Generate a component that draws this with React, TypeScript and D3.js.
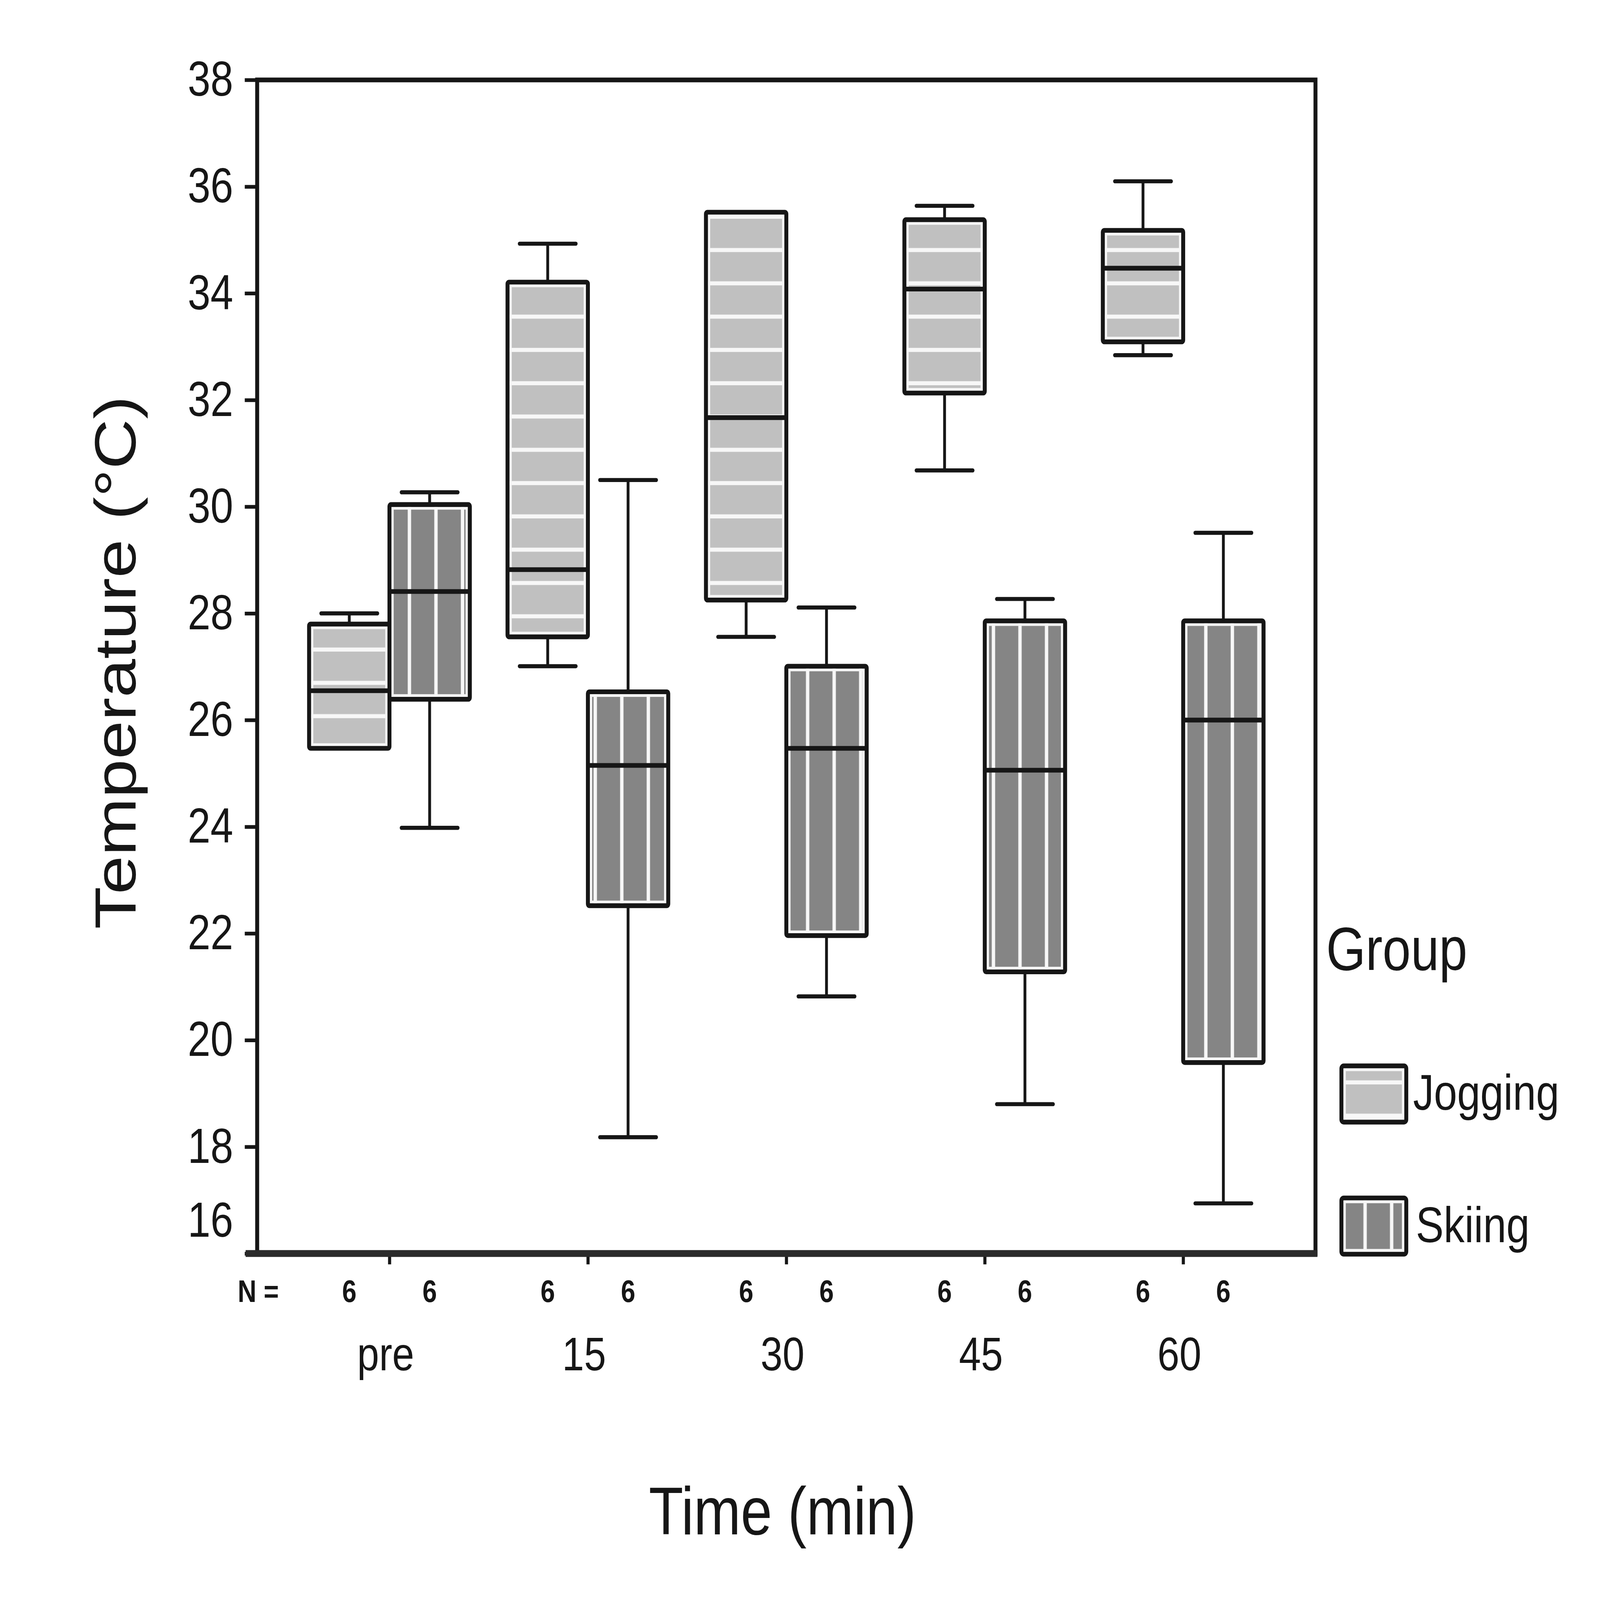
import * as d3 from 'd3';
import {useEffect, useRef} from 'react';

// time points and groups
const categories = ['pre', '15', '30', '45', '60'];
const groups = ['Jogging', 'Skiing'];
const yTicks = [16, 18, 20, 22, 24, 26, 28, 30, 32, 34, 36, 38];

// box statistics (°C)
const joggingLow = [25.47, 27.01, 27.56, 30.68, 32.84];
const joggingQ1 = [25.47, 27.56, 28.25, 32.13, 33.09];
const joggingMedian = [26.55, 28.82, 31.67, 34.08, 34.47];
const joggingQ3 = [27.8, 34.21, 35.52, 35.38, 35.18];
const joggingHigh = [28.0, 34.93, 35.52, 35.64, 36.1];

const skiingLow = [23.98, 18.18, 20.82, 18.8, 16.94];
const skiingQ1 = [26.39, 22.52, 21.96, 21.28, 19.58];
const skiingMedian = [28.41, 25.15, 25.47, 25.06, 26.0];
const skiingQ3 = [30.04, 26.53, 27.01, 27.86, 27.86];
const skiingHigh = [30.27, 30.5, 28.11, 28.27, 29.51];

const joggingN = [6, 6, 6, 6, 6];
const skiingN = [6, 6, 6, 6, 6];

const FONT = '"Liberation Sans", Arial, Helvetica, sans-serif';
const INK = '#161616';

export default function App() {
    const ref = useRef<SVGSVGElement>(null);
    const width = 5674;
    const height = 4724;

    const frame = {left: 912, right: 4665, top: 236, bottom: 3701};
    const boxW = 285;
    const capHalf = 100;

    useEffect(() => {
        const svg = d3.select(ref.current);
        svg.selectAll('*').remove();

        const x = d3
            .scalePoint<string>()
            .domain(categories)
            .range([frame.left, frame.right])
            .padding(2 / 3);

        const y = d3.scaleLinear().domain([16, 38]).range([frame.bottom, frame.top]);

        // fill patterns, anchored to the page like the original
        const defs = svg.append('defs');
        const hp = defs
            .append('pattern')
            .attr('id', 'joggingFill')
            .attr('patternUnits', 'userSpaceOnUse')
            .attr('x', 0)
            .attr('y', 935 - 49.15)
            .attr('width', 100)
            .attr('height', 98.3);
        hp.append('rect').attr('width', 100).attr('height', 98.3).attr('fill', '#c0c0c0');
        hp.append('rect').attr('y', 43).attr('width', 100).attr('height', 12).attr('fill', '#f7f7f7');

        const vp = defs
            .append('pattern')
            .attr('id', 'skiingFill')
            .attr('patternUnits', 'userSpaceOnUse')
            .attr('x', 1452 - 47.07)
            .attr('y', 0)
            .attr('width', 94.14)
            .attr('height', 100);
        vp.append('rect').attr('width', 94.14).attr('height', 100).attr('fill', '#858585');
        vp.append('rect').attr('x', 41).attr('width', 12).attr('height', 100).attr('fill', '#f7f7f7');

        const fills = ['url(#joggingFill)', 'url(#skiingFill)'];

        // y axis
        const yAxis = d3
            .axisLeft(y)
            .tickValues(yTicks)
            .tickSize(44)
            .tickPadding(41)
            .tickFormat((d) => `${d}`);
        const gy = svg.append('g').attr('transform', `translate(${frame.left},0)`).call(yAxis);
        gy.select('.domain').remove();
        gy.selectAll('line').attr('stroke', INK).attr('stroke-width', 11);
        gy.selectAll('text')
            .attr('font-family', FONT)
            .attr('font-size', 145)
            .attr('fill', INK);
        gy.selectAll<SVGTextElement, number>('text')
            .filter((d) => d === 16)
            .attr('y', -96);

        // x axis ticks and category labels
        const xAxis = d3.axisBottom(x).tickSize(32).tickPadding(214);
        const gx = svg.append('g').attr('transform', `translate(0,${frame.bottom})`).call(xAxis);
        gx.select('.domain').remove();
        gx.selectAll('line').attr('stroke', INK).attr('stroke-width', 11);
        gx.selectAll('text')
            .attr('font-family', FONT)
            .attr('font-size', 140)
            .attr('fill', INK)
            .attr('dx', -14);

        // plot frame
        svg.append('rect')
            .attr('x', frame.left)
            .attr('y', frame.top)
            .attr('width', frame.right - frame.left)
            .attr('height', frame.bottom - frame.top)
            .attr('fill', 'none')
            .attr('stroke', INK)
            .attr('stroke-width', 14);
        svg.append('line')
            .attr('x1', 871)
            .attr('x2', frame.right + 7)
            .attr('y1', frame.bottom)
            .attr('y2', frame.bottom)
            .attr('stroke', '#2a2a2a')
            .attr('stroke-width', 20);

        const series = [
            {low: joggingLow, q1: joggingQ1, med: joggingMedian, q3: joggingQ3, high: joggingHigh, n: joggingN, offset: -boxW},
            {low: skiingLow, q1: skiingQ1, med: skiingMedian, q3: skiingQ3, high: skiingHigh, n: skiingN, offset: 0},
        ];

        series.forEach((s, gi) => {
            const g = svg.append('g');
            categories.forEach((c, i) => {
                const x0 = (x(c) ?? 0) + s.offset;
                const cx = x0 + boxW / 2;
                const yTop = y(s.q3[i]);
                const yBot = y(s.q1[i]);

                // whiskers
                g.append('line')
                    .attr('x1', cx).attr('x2', cx)
                    .attr('y1', y(s.high[i])).attr('y2', yTop)
                    .attr('stroke', INK).attr('stroke-width', 10);
                g.append('line')
                    .attr('x1', cx).attr('x2', cx)
                    .attr('y1', yBot).attr('y2', y(s.low[i]))
                    .attr('stroke', INK).attr('stroke-width', 10);
                [s.high[i], s.low[i]].forEach((v) => {
                    g.append('line')
                        .attr('x1', cx - capHalf).attr('x2', cx + capHalf)
                        .attr('y1', y(v)).attr('y2', y(v))
                        .attr('stroke', INK).attr('stroke-width', 12)
                        .attr('stroke-linecap', 'round');
                });

                // box
                g.append('rect')
                    .attr('x', x0).attr('y', yTop)
                    .attr('width', boxW).attr('height', yBot - yTop)
                    .attr('fill', fills[gi]);
                g.append('rect')
                    .attr('x', x0 + 11).attr('y', yTop + 11)
                    .attr('width', boxW - 22).attr('height', Math.max(0, yBot - yTop - 22))
                    .attr('fill', 'none')
                    .attr('stroke', '#f7f7f7').attr('stroke-width', 8);
                g.append('rect')
                    .attr('x', x0).attr('y', yTop)
                    .attr('width', boxW).attr('height', yBot - yTop)
                    .attr('rx', 5)
                    .attr('fill', 'none')
                    .attr('stroke', INK).attr('stroke-width', 14);
                g.append('line')
                    .attr('x1', x0).attr('x2', x0 + boxW)
                    .attr('y1', y(s.med[i])).attr('y2', y(s.med[i]))
                    .attr('stroke', INK).attr('stroke-width', 14);

                // sample size
                svg.append('text')
                    .attr('x', cx).attr('y', 3844)
                    .attr('text-anchor', 'middle')
                    .attr('font-family', FONT).attr('font-size', 92).attr('font-weight', 'bold')
                    .attr('fill', INK)
                    .text(s.n[i]);
            });
        });

        svg.append('text')
            .attr('x', 843).attr('y', 3844)
            .attr('font-family', FONT).attr('font-size', 92).attr('font-weight', 'bold')
            .attr('fill', INK)
            .text('N =');

        // axis titles
        svg.append('text')
            .attr('transform', `translate(481,1956) rotate(-90)`)
            .attr('text-anchor', 'middle')
            .attr('font-family', FONT).attr('font-size', 205)
            .attr('fill', INK)
            .text('Temperature (°C)');
        svg.append('text')
            .attr('x', 2775).attr('y', 4530)
            .attr('text-anchor', 'middle')
            .attr('font-family', FONT).attr('font-size', 200)
            .attr('fill', INK)
            .text('Time (min)');

        // legend
        const leg = svg.append('g');
        leg.append('text')
            .attr('x', 4703).attr('y', 2864)
            .attr('font-family', FONT).attr('font-size', 180)
            .attr('fill', INK)
            .text('Group');
        const swatchTop = [3147, 3537];
        const labelBase = [3277, 3667];
        groups.forEach((name, gi) => {
            const sx = 4757;
            const sw = 230;
            const sh = 166;
            leg.append('rect')
                .attr('x', sx).attr('y', swatchTop[gi])
                .attr('width', sw).attr('height', sh)
                .attr('fill', fills[gi]);
            leg.append('rect')
                .attr('x', sx + 11).attr('y', swatchTop[gi] + 11)
                .attr('width', sw - 22).attr('height', sh - 22)
                .attr('fill', 'none')
                .attr('stroke', '#f7f7f7').attr('stroke-width', 9);
            leg.append('rect')
                .attr('x', sx).attr('y', swatchTop[gi])
                .attr('width', sw).attr('height', sh)
                .attr('rx', 8)
                .attr('fill', 'none')
                .attr('stroke', INK).attr('stroke-width', 14);
            leg.append('text')
                .attr('x', gi === 0 ? 5011 : 5021).attr('y', labelBase[gi])
                .attr('font-family', FONT).attr('font-size', 148)
                .attr('fill', INK)
                .text(name);
        });
    }, []);

    return (
        <svg
            ref={ref}
            viewBox={`0 0 ${width} ${height}`}
            preserveAspectRatio="none"
            style={{position: 'absolute', left: 0, top: 0, width: '100vw', height: '100vh', background: '#ffffff'}}
        ></svg>
    );
}
